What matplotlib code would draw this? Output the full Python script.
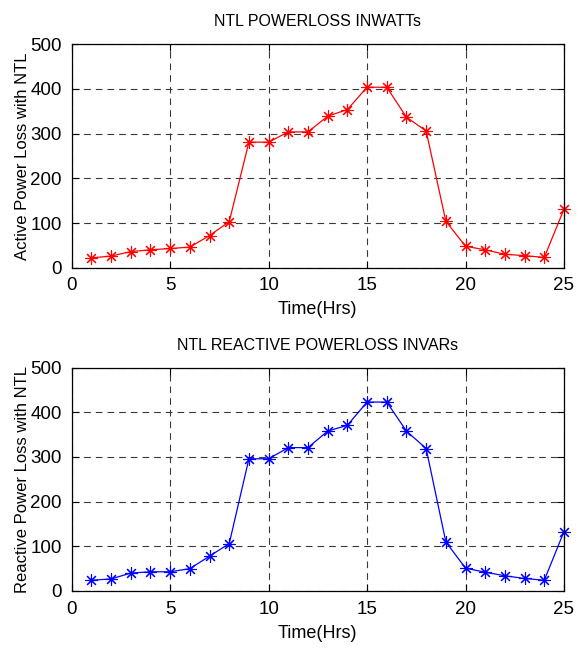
import numpy as np
import matplotlib
matplotlib.use('Agg')
import matplotlib.pyplot as plt

plt.rcParams['font.family'] = ['Liberation Sans Narrow', 'Liberation Sans', 'DejaVu Sans']

##-------------------------------------DATA-------------------------------------
hours = list(range(1, 26))
active_loss = [22, 26, 36, 40, 43, 46, 72, 103, 281, 281, 304, 304, 339, 354,
               404, 404, 337, 306, 104, 48, 40, 30, 27, 23, 131]
reactive_loss = [24, 27, 40, 43, 43, 50, 78, 106, 296, 296, 321, 321, 358, 371,
                 423, 423, 358, 319, 110, 51, 42, 34, 28, 24, 133]

x_ticks = [0, 5, 10, 15, 20, 25]
y_ticks = [0, 100, 200, 300, 400, 500]

titles = ['NTL POWERLOSS INWATTs', 'NTL REACTIVE POWERLOSS INVARs']
ylabels = ['Active Power Loss with NTL', 'Reactive Power Loss with NTL']
xlabel = 'Time(Hrs)'

##-------------------------------------PLOT-------------------------------------
fig = plt.figure(figsize=(5.81, 6.48), dpi=100)
ax1 = fig.add_axes([0.1234, 0.5869, 0.8473, 0.3447])
ax2 = fig.add_axes([0.1234, 0.0880, 0.8473, 0.3446])

for ax, y, col, title, ylab in zip([ax1, ax2], [active_loss, reactive_loss],
                                   ['#ff0000', '#0000ff'], titles, ylabels):
    ax.plot(hours, y, color=col, lw=0.9, marker=(8, 2, 0), ms=9, mew=0.8,
            clip_on=False)
    ax.set_xlim(0, 25)
    ax.set_ylim(0, 500)
    ax.set_xticks(x_ticks)
    ax.set_yticks(y_ticks)
    ax.tick_params(direction='in', top=True, right=True, length=5, width=0.8,
                   labelsize=13.5, pad=7)
    ax.grid(True, color='#383838', ls=(0, (6, 4.5)), lw=0.8)
    for s in ax.spines.values():
        s.set_linewidth(0.9)
    ax.set_title(title, fontsize=11.5, pad=13)
    ax.set_xlabel(xlabel, fontsize=13, labelpad=5)
    ax.set_ylabel(ylab, fontsize=12, labelpad=0)

plt.savefig('out.png', dpi=100)
